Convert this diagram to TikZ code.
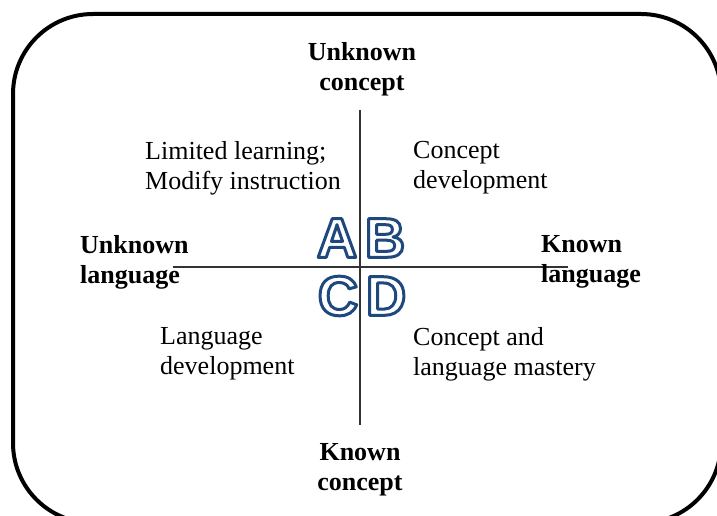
\documentclass[tikz,border=0pt]{standalone}
\usepackage{fontspec}
\setmainfont{Liberation Serif}
\newfontfamily\quadfont{Liberation Sans}
\usepackage{xcolor}
\usepackage{tikz}
\usetikzlibrary{positioning, calc}

\tikzset{
  axis/.style={line width=2, draw=black!80},
  corner/.style={font=\fontsize{26}{30}\selectfont\bfseries, align=center, inner sep=0},
  quadtext/.style={font=\fontsize{26}{30}\selectfont, align=left, anchor=west, inner sep=0},
  quadletter/.style={font=\fontsize{56}{56}\selectfont\quadfont\bfseries, inner sep=0}
}
% outlined letter: white fill, blue stroke
\newcommand{\qletter}[1]{\textcolor{white}{\special{pdf:literal direct q 2 Tr 3 w 1 j 0.122 0.286 0.490 RG 1 1 1 rg}#1\special{pdf:literal direct Q}}}

\begin{document}
\begin{tikzpicture}[x=1pt, y=-1pt]
\useasboundingbox (0,0) rectangle (717,516);
\clip (0,0) rectangle (717,516);

% frame
\draw[line width=4, rounded corners=80] (13,14) rectangle (721,523);

% axes
\coordinate (top) at (360,110);
\coordinate (bottom) at (360,425);
\coordinate (left) at (173,267);
\coordinate (right) at (568,267);
\draw[axis] (top) -- (bottom);
\draw[axis] (left) -- (right);

% axis ends
\node[corner] (unkcon) at (362,69) {Unknown\\concept};
\node[corner] (kncon) at (360,470) {Known\\concept};
\node[corner, align=left, anchor=west] (unklang) at (80,262) {Unknown\\language};
\node[corner, align=left, anchor=west] (knlang) at (541,262) {Known\\language};

% quadrants
\node[quadtext] (qa) at (145,168) {Limited learning;\\Modify instruction};
\node[quadtext] (qb) at (413,168) {Concept\\development};
\node[quadtext] (qc) at (160,354) {Language\\development};
\node[quadtext] (qd) at (413,354) {Concept and\\language mastery};

% letters
\node[quadletter] (la) at (337,238) {\qletter{A}};
\node[quadletter] (lb) at (385,238) {\qletter{B}};
\node[quadletter] (lc) at (338,296) {\qletter{C}};
\node[quadletter] (ld) at (386,296) {\qletter{D}};
\end{tikzpicture}
\end{document}
